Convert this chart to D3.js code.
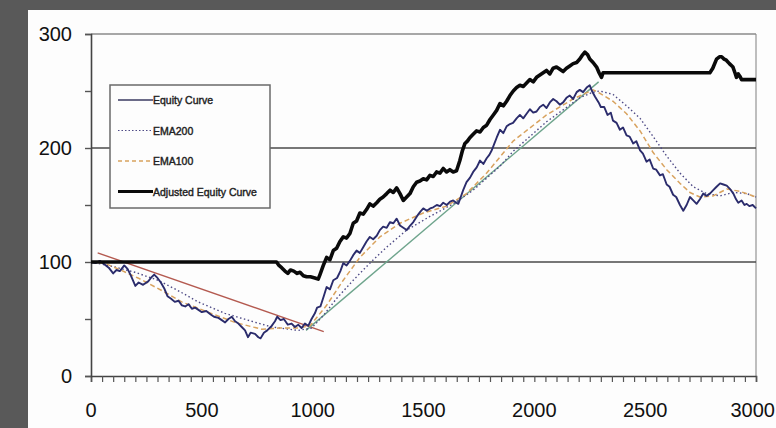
<!DOCTYPE html>
<html>

<head>
    <meta charset="utf-8">
    <style>
        body {
            margin: 0;
            background: #595959;
        }

        svg {
            display: block;
        }

        .tick-label {
            font-family: 'Liberation Sans', Arial, sans-serif;
            font-size: 20px;
            fill: #111;
        }

        .legend-text {
            font-family: 'Liberation Sans', Arial, sans-serif;
            font-size: 10.5px;
            fill: #222;
            stroke: #222;
            stroke-width: 0.4px;
        }
    </style>
</head>

<body>
    <svg width="776" height="428"></svg>

    <script src="https://d3js.org/d3.v7.min.js"></script>
    <script>
        // ---- data ----
        let xTicks = [0, 500, 1000, 1500, 2000, 2500, 3000]
        let yTicks = [0, 100, 200, 300]
        let gridValues = [100, 200, 300]

        let equityX = [0, 20, 40, 60, 80, 100, 115, 130, 150, 165, 180, 200, 215, 235, 258, 270, 285, 300, 315, 330,
            345, 360, 378, 395, 410, 425, 440, 455, 470, 485, 500, 520, 540, 555, 575, 590, 605, 620, 635, 650,
            665, 680, 695, 708, 720, 740, 755, 765, 780, 795, 815, 830, 840, 855, 870, 888, 905, 920, 935, 950,
            965, 980, 995, 1010, 1020, 1035, 1050, 1063, 1078, 1093, 1110, 1125, 1138, 1153, 1168, 1183, 1198, 1213, 1228, 1243,
            1258, 1273, 1289, 1303, 1318, 1334, 1349, 1364, 1379, 1394, 1409, 1424, 1440, 1454, 1470, 1485, 1499, 1515, 1530, 1544,
            1560, 1575, 1589, 1605, 1620, 1634, 1648, 1657, 1668, 1679, 1694, 1710, 1724, 1740, 1755, 1770, 1785, 1797, 1808, 1820,
            1830, 1845, 1860, 1875, 1890, 1904, 1920, 1935, 1950, 1965, 1980, 1995, 2010, 2025, 2040, 2055, 2070, 2085, 2100, 2115,
            2130, 2145, 2160, 2175, 2191, 2205, 2220, 2236, 2250, 2260, 2274, 2290, 2300, 2315, 2330, 2345, 2355, 2371, 2386, 2400,
            2416, 2430, 2446, 2460, 2477, 2490, 2506, 2520, 2536, 2550, 2567, 2580, 2597, 2610, 2626, 2640, 2657, 2672, 2687, 2702,
            2717, 2732, 2747, 2762, 2777, 2792, 2807, 2822, 2838, 2853, 2868, 2883, 2898, 2910, 2920, 2935, 2948, 2958, 2970, 2985, 3000]
        let equityY = [100, 99, 101, 98, 95, 90, 93, 92, 97, 94, 88, 79, 82, 80, 83, 86, 89, 86, 82, 77,
            70, 68, 65, 66, 62, 61, 63, 59, 60, 58, 56, 57, 54, 52, 51, 49, 47, 50, 52, 48,
            46, 43, 40, 34, 38, 37, 34, 33, 38, 40, 44, 48, 52, 49, 50, 45, 46, 43, 45, 42,
            46, 44, 50, 55, 60, 61, 70, 78, 76, 84, 86, 92, 99, 97, 101, 106, 110, 108, 113, 118,
            122, 120, 123, 128, 131, 130, 135, 134, 138, 132, 130, 128, 132, 135, 140, 144, 147, 145, 147, 148,
            150, 149, 152, 150, 153, 154, 152, 151, 157, 163, 170, 174, 179, 183, 189, 186, 191, 194, 198, 204,
            209, 216, 213, 219, 221, 222, 226, 229, 226, 230, 234, 231, 232, 236, 238, 235, 240, 243, 241, 238,
            240, 244, 246, 243, 249, 251, 249, 253, 255, 250, 245, 240, 236, 236, 229, 231, 224, 222, 216, 218,
            211, 210, 204, 206, 198, 195, 188, 190, 182, 181, 176, 177, 168, 166, 159, 157, 150, 145, 150, 157,
            154, 151, 155, 160, 158, 160, 163, 166, 169, 168, 167, 164, 160, 155, 152, 154, 150, 151, 149, 150, 147]

        let ema200X = [0, 100, 198, 302, 392, 483, 604, 725, 815, 934, 995, 1048, 1108, 1183, 1258, 1334, 1424, 1529, 1634, 1724,
            1845, 1904, 2055, 2205, 2265, 2296, 2355, 2416, 2477, 2536, 2597, 2657, 2717, 2777, 2838, 2898, 2958, 3000]
        let ema200Y = [100, 96, 91, 84, 75, 65, 55, 48, 43, 40, 42, 53, 68, 84, 99, 113, 128, 140, 151, 163,
            184, 197, 223, 244, 249, 250, 247, 237, 226, 210, 193, 178, 166, 160, 158, 161, 160, 157]

        let ema100X = [0, 60, 122, 212, 319, 409, 528, 650, 770, 844, 934, 988, 1063, 1138, 1213, 1303, 1394, 1499, 1604, 1694,
            1785, 1904, 2055, 2175, 2265, 2296, 2355, 2416, 2477, 2536, 2597, 2657, 2702, 2747, 2807, 2868, 2927, 3000]
        let ema100Y = [100, 99, 94, 86, 75, 65, 56, 47, 41, 42, 42, 44, 62, 84, 104, 122, 134, 143, 149, 160,
            178, 206, 229, 243, 251, 248, 241, 230, 215, 196, 181, 169, 161, 157, 158, 164, 162, 157]

        let adjustedX = [0, 837, 848, 860, 875, 888, 900, 915, 930, 943, 958, 973, 990, 1010, 1025, 1033, 1048, 1063, 1078, 1093,
            1108, 1123, 1138, 1153, 1168, 1183, 1198, 1213, 1228, 1243, 1258, 1273, 1289, 1303, 1318, 1334, 1349, 1364, 1379, 1394,
            1409, 1424, 1439, 1454, 1469, 1484, 1499, 1514, 1529, 1544, 1559, 1574, 1589, 1604, 1619, 1634, 1649, 1664, 1676, 1687,
            1698, 1709, 1724, 1739, 1755, 1770, 1785, 1800, 1815, 1830, 1845, 1860, 1875, 1890, 1905, 1920, 1935, 1950, 1965, 1980,
            1995, 2010, 2025, 2040, 2055, 2070, 2085, 2100, 2115, 2130, 2145, 2160, 2175, 2191, 2205, 2215, 2228, 2240, 2250, 2265,
            2281, 2292, 2303, 2310, 2792, 2805, 2822, 2835, 2845, 2856, 2866, 2880, 2896, 2905, 2912, 2920, 2927, 2935, 3000]
        let adjustedY = [100, 100, 97, 95, 92, 90, 93, 92, 90, 91, 88, 87, 87, 86, 85, 89, 97, 104, 102, 110,
            112, 118, 122, 121, 125, 134, 136, 143, 142, 146, 151, 149, 152, 155, 157, 160, 163, 161, 165, 160,
            154, 157, 160, 166, 170, 171, 173, 172, 176, 175, 179, 178, 182, 179, 181, 179, 180, 189, 198, 204,
            206, 209, 212, 215, 214, 218, 220, 225, 229, 233, 239, 237, 241, 246, 250, 253, 255, 254, 257, 260,
            258, 262, 264, 266, 268, 265, 270, 271, 269, 267, 270, 272, 274, 275, 278, 281, 284, 282, 278, 275,
            271, 266, 262, 266, 266, 270, 278, 280, 280, 278, 277, 274, 271, 266, 262, 265, 263, 260, 260]

        let redTrendX = [30, 1050]
        let redTrendY = [108, 39]
        let greenTrendX = [970, 2290]
        let greenTrendY = [40, 258]

        let legendNames = ["Equity Curve", "EMA200", "EMA100", "Adjusted Equity Curve"]

        // ---- layout ----
        let svg = d3.select("svg")
        let plot = { left: 91, right: 756, top: 34, bottom: 376 }

        let x = d3.scaleLinear()
            .domain([0, 3000])
            .range([plot.left, plot.right])

        let y = d3.scaleLinear()
            .domain([0, 300])
            .range([plot.bottom, plot.top])

        // white panel over the grey frame
        svg.append("rect")
            .attr("x", 28)
            .attr("y", 10)
            .attr("width", 776 - 28)
            .attr("height", 428 - 10)
            .attr("fill", "#fdfdfd")

        // right border of the plot area
        svg.append("line")
            .attr("x1", plot.right).attr("x2", plot.right)
            .attr("y1", plot.top).attr("y2", plot.bottom)
            .attr("stroke", "#a8a8a8")
            .attr("stroke-width", 1.5)

        // gridlines
        svg.append("g")
            .selectAll("line")
            .data(gridValues)
            .join("line")
            .attr("x1", plot.left)
            .attr("x2", plot.right)
            .attr("y1", d => y(d))
            .attr("y2", d => y(d))
            .attr("stroke", d => d == 300 ? "#8a8a8a" : "#4a4a4a")
            .attr("stroke-width", 1.6)

        // axes
        let xAxis = svg.append("g")
            .attr("transform", `translate(0,${plot.bottom})`)
            .call(d3.axisBottom(x).tickValues(d3.range(0, 3001, 50)).tickSize(6).tickFormat(""))
        xAxis.selectAll(".tick line").attr("stroke", "#555").attr("stroke-width", 1.2)
        xAxis.select(".domain").attr("stroke", "#444").attr("stroke-width", 1.6)

        let yAxis = svg.append("g")
            .attr("transform", `translate(${plot.left},0)`)
            .call(d3.axisLeft(y).tickValues(d3.range(0, 301, 50)).tickSize(6).tickFormat(""))
        yAxis.selectAll(".tick line").attr("stroke", "#555").attr("stroke-width", 1.4)
        yAxis.select(".domain").attr("stroke", "#444").attr("stroke-width", 1.6)

        // the last label runs into the right edge, as in the original
        svg.append("g")
            .selectAll("text")
            .data(xTicks)
            .join("text")
            .attr("class", "tick-label")
            .attr("x", d => d == 3000 ? 775 : x(d))
            .attr("y", 417)
            .attr("text-anchor", d => d == 3000 ? "end" : "middle")
            .text(d => d)

        svg.append("g")
            .selectAll("text")
            .data(yTicks)
            .join("text")
            .attr("class", "tick-label")
            .attr("x", 72)
            .attr("y", d => y(d) + 7)
            .attr("text-anchor", "end")
            .text(d => d)

        // series
        let line = d3.line()
            .x(d => x(d[0]))
            .y(d => y(d[1]))

        let zipped = (xs, ys) => xs.map((v, i) => [v, ys[i]])

        let series = [
            { pts: zipped(redTrendX, redTrendY), color: "#b45a50", width: 1.4, dash: null },
            { pts: zipped(greenTrendX, greenTrendY), color: "#6ea48c", width: 1.4, dash: null },
            { pts: zipped(ema200X, ema200Y), color: "#4e4a86", width: 1.4, dash: "1.5,2.5" },
            { pts: zipped(ema100X, ema100Y), color: "#d8a25e", width: 1.5, dash: "5,3" },
            { pts: zipped(equityX, equityY), color: "#2b2c6c", width: 1.9, dash: null },
            { pts: zipped(adjustedX, adjustedY), color: "#0a0a0a", width: 3.6, dash: null }
        ]

        svg.append("g")
            .selectAll("path")
            .data(series)
            .join("path")
            .attr("d", d => line(d.pts))
            .attr("fill", "none")
            .attr("stroke", d => d.color)
            .attr("stroke-width", d => d.width)
            .attr("stroke-dasharray", d => d.dash)
            .attr("stroke-linejoin", "round")

        // legend
        let legend = svg.append("g")

        legend.append("rect")
            .attr("x", 110)
            .attr("y", 85)
            .attr("width", 160)
            .attr("height", 123)
            .attr("fill", "#fdfdfd")
            .attr("stroke", "#6a6a6a")
            .attr("stroke-width", 1.5)

        let legendStyle = [
            { color: "#3a3a60", width: 1.3, dash: null },
            { color: "#4e4a86", width: 1.2, dash: "1.5,2" },
            { color: "#d8a25e", width: 1.3, dash: "4,3" },
            { color: "#0a0a0a", width: 2.8, dash: null }
        ]

        let items = legend.selectAll("g")
            .data(legendNames)
            .join("g")
            .attr("transform", (d, i) => `translate(0,${100 + i * 30.5})`)

        items.append("line")
            .attr("x1", 118)
            .attr("x2", 153)
            .attr("stroke", (d, i) => legendStyle[i].color)
            .attr("stroke-width", (d, i) => legendStyle[i].width)
            .attr("stroke-dasharray", (d, i) => legendStyle[i].dash)

        items.append("text")
            .attr("class", "legend-text")
            .attr("x", 153)
            .attr("y", 4)
            .text(d => d)
    </script>
</body>

</html>
